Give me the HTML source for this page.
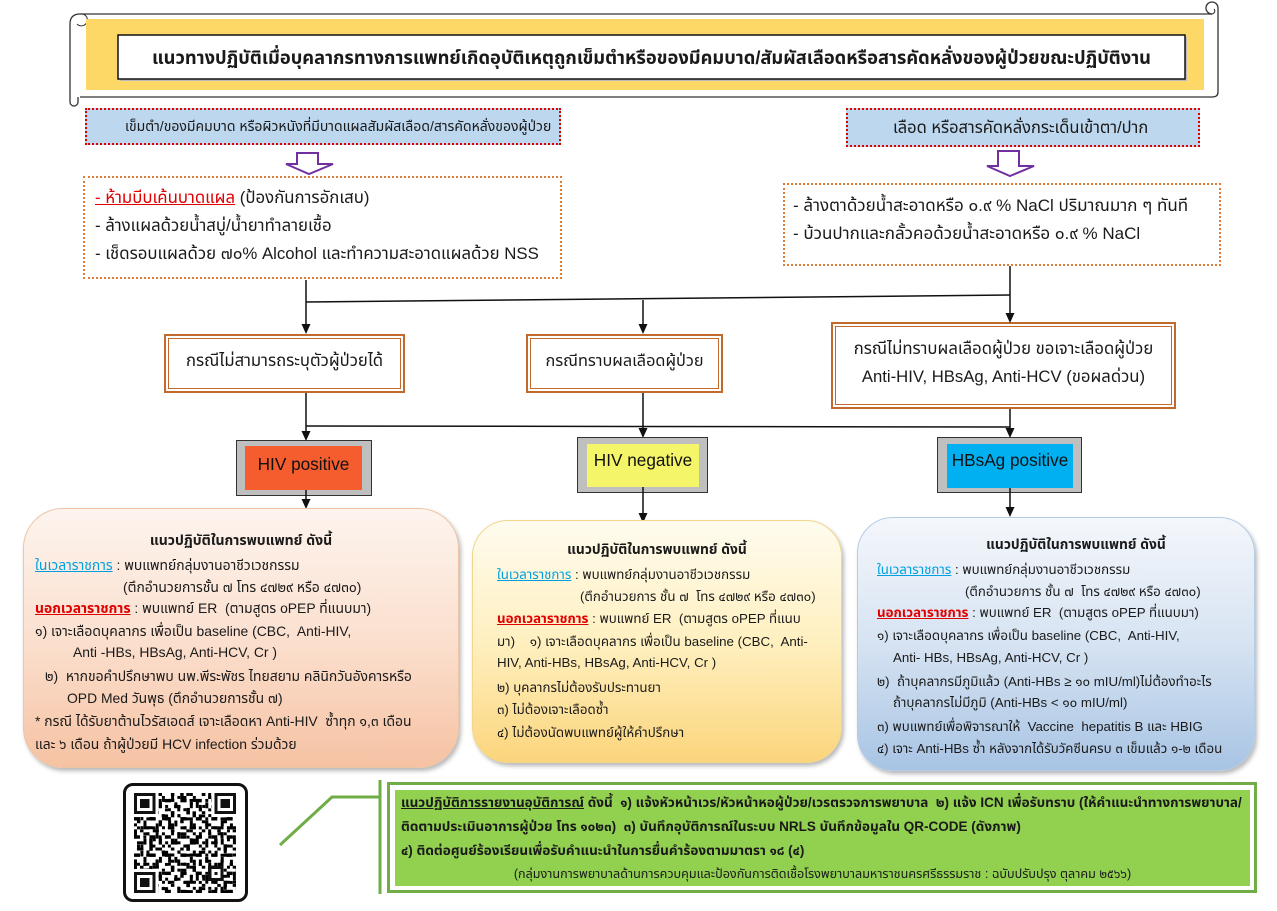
<!DOCTYPE html>
<html><head><meta charset="utf-8">
<style>
*{margin:0;padding:0;box-sizing:border-box}
html,body{width:1277px;height:911px;background:#fff;overflow:hidden}
body{position:relative;font-family:"Liberation Sans","Tahoma","Leelawadee UI","Noto Sans Thai","Noto Sans Thai UI","Loma","Garuda","Waree","Sawasdee","Kinnari","Norasi",sans-serif;color:#1a1a1a}
.a{position:absolute;white-space:nowrap}
.src{position:absolute;background:#bdd7ee;border:2.5px dotted #e00000}
.ins{position:absolute;background:#fff;border:2px dotted #e07b39}
.case{position:absolute;border:2px solid #c2692c;padding:2px;background:#fff}
.case>div{width:100%;height:100%;border:1px solid #c2692c}
.hiv{position:absolute;background:#bfbfbf;border:1.5px solid #333}
.hiv>div{position:absolute;font-size:17.2px;text-align:center;color:#111}
.panel{position:absolute;box-shadow:2px 3px 4px rgba(0,0,0,.28)}
.pt{position:absolute;white-space:nowrap;font-size:13.3px;line-height:20px;color:#1a1a1a}
.lp .pt{font-size:13.9px}
.hd{font-weight:bold;font-size:13.8px}
.lp .hd{font-size:14px}
.bl{color:#00a0e0;text-decoration:underline}
.rd{color:#e00000;text-decoration:underline;font-weight:bold}
.g{position:absolute;white-space:nowrap;font-size:13.5px;line-height:18px;font-weight:bold;color:#1a1a1a}
.ct{font-size:16.7px;line-height:20px;text-align:center}
.it{font-size:16.8px;line-height:20px}
</style></head><body>

<!-- title scroll -->
<svg class="a" style="left:0;top:0" width="1277" height="120">
  <path d="M80,14 H1212" stroke="#333" stroke-width="1.3" fill="none"/>
  <path d="M1212,14 a6,6 0 1,1 6,-6 V92" stroke="#333" stroke-width="1.3" fill="none"/>
  <path d="M1212,14 a3,3 0 0,0 2,-5" stroke="#333" stroke-width="1" fill="none"/>
  <path d="M1218,92 Q1218,97 1212,97 H80" stroke="#333" stroke-width="1.3" fill="none"/>
  <path d="M80,14 Q70,14 70,24 V102 a4,4 0 0,0 8,0 V97" stroke="#333" stroke-width="1.3" fill="none"/>
  <path d="M77,24 a6,6 0 1,0 3,-10" stroke="#333" stroke-width="1" fill="none"/>
  <rect x="86" y="19" width="1118" height="71" fill="#fdd866"/>
  <rect x="120" y="37" width="1067" height="44" fill="#bbb"/>
  <rect x="118" y="35" width="1067" height="44" fill="#fff" stroke="#111" stroke-width="1.5"/>
</svg>
<div class="a" style="left:118px;top:45px;width:1067px;text-align:center;font-size:18.3px;line-height:26px;font-weight:bold;">แนวทางปฏิบัติเมื่อบุคลากรทางการแพทย์เกิดอุบัติเหตุถูกเข็มตำหรือของมีคมบาด/สัมผัสเลือดหรือสารคัดหลั่งของผู้ป่วยขณะปฏิบัติงาน</div>

<!-- source boxes -->
<div class="src" style="left:85px;top:108px;width:476px;height:37px"></div>
<div class="a" style="left:125px;top:116px;font-size:14px;line-height:20px">เข็มตำ/ของมีคมบาด หรือผิวหนังที่มีบาดแผลสัมผัสเลือด/สารคัดหลั่งของผู้ป่วย</div>
<div class="src" style="left:846px;top:108px;width:354px;height:39px"></div>
<div class="a" style="left:893px;top:117px;font-size:16.5px;line-height:22px">เลือด หรือสารคัดหลั่งกระเด็นเข้าตา/ปาก</div>

<!-- purple hollow arrows -->
<svg class="a" style="left:0;top:0" width="1277" height="200">
  <path d="M297,153 H318 V164 H333 L309,174 L286,164 H297 Z" fill="#fff" stroke="#7030a0" stroke-width="2"/>
  <path d="M998,151 H1019 V166 H1034 L1010,176 L987,166 H998 Z" fill="#fff" stroke="#7030a0" stroke-width="2"/>
</svg>

<!-- instruction boxes -->
<div class="ins" style="left:83px;top:176px;width:479px;height:103px"></div>
<div class="a it" style="left:95px;top:188px"><span style="color:#e00000;text-decoration:underline">- ห้ามบีบเค้นบาดแผล</span> (ป้องกันการอักเสบ)</div>
<div class="a it" style="left:95px;top:216px">- ล้างแผลด้วยน้ำสบู่/น้ำยาทำลายเชื้อ</div>
<div class="a it" style="left:95px;top:244px">- เช็ดรอบแผลด้วย ๗๐% Alcohol และทำความสะอาดแผลด้วย NSS</div>

<div class="ins" style="left:783px;top:183px;width:438px;height:83px"></div>
<div class="a it" style="left:793px;top:196px;font-size:17px">- ล้างตาด้วยน้ำสะอาดหรือ ๐.๙ % NaCl ปริมาณมาก ๆ ทันที</div>
<div class="a it" style="left:793px;top:224px;font-size:17px">- บ้วนปากและกลั้วคอด้วยน้ำสะอาดหรือ ๐.๙ % NaCl</div>

<!-- case boxes -->
<div class="case" style="left:164px;top:334px;width:241px;height:59px"><div></div></div>
<div class="a ct" style="left:164px;top:351px;width:241px">กรณีไม่สามารถระบุตัวผู้ป่วยได้</div>
<div class="case" style="left:526px;top:334px;width:197px;height:59px"><div></div></div>
<div class="a ct" style="left:526px;top:351px;width:197px;font-size:16.3px">กรณีทราบผลเลือดผู้ป่วย</div>
<div class="case" style="left:831px;top:322px;width:345px;height:87px"><div></div></div>
<div class="a ct" style="left:831px;top:339px;width:345px">กรณีไม่ทราบผลเลือดผู้ป่วย ขอเจาะเลือดผู้ป่วย</div>
<div class="a ct" style="left:831px;top:367px;width:345px">Anti-HIV, HBsAg, Anti-HCV (ขอผลด่วน)</div>

<!-- HIV boxes -->
<div class="hiv" style="left:236px;top:440px;width:136px;height:56px">
  <div style="left:8px;top:5px;width:117px;height:44px;background:#f55d2e;line-height:36px">HIV positive</div>
</div>
<div class="hiv" style="left:577px;top:437px;width:131px;height:56px">
  <div style="left:9px;top:6px;width:112px;height:43px;background:#f5f56a;line-height:32px">HIV negative</div>
</div>
<div class="hiv" style="left:937px;top:437px;width:145px;height:56px">
  <div style="left:9px;top:6px;width:126px;height:44px;background:#00b0f0;line-height:32px">HBsAg positive</div>
</div>

<!-- connectors -->
<svg class="a" style="left:0;top:0" width="1277" height="911">
  <g stroke="#111" stroke-width="1.5" fill="none">
    <path d="M306,280 V326"/>
    <path d="M306,302 L1010,295"/>
    <path d="M643,300 V326"/>
    <path d="M1010,266 V315"/>
    <path d="M306,393 V433"/>
    <path d="M306,426 L1010,427"/>
    <path d="M643,393 V430"/>
    <path d="M1010,409 V430"/>
    <path d="M306,490 V501"/>
    <path d="M643,487 V515"/>
    <path d="M1010,488 V509"/>
  </g>
  <g fill="#111">
    <path d="M306,334 l-4.5,-10 h9 z"/>
    <path d="M643,334 l-4.5,-10 h9 z"/>
    <path d="M1010,323 l-4.5,-10 h9 z"/>
    <path d="M306,441 l-4.5,-10 h9 z"/>
    <path d="M643,438 l-4.5,-10 h9 z"/>
    <path d="M1010,438 l-4.5,-10 h9 z"/>
    <path d="M306,509 l-4.5,-10 h9 z"/>
    <path d="M643,523 l-4.5,-10 h9 z"/>
    <path d="M1010,517 l-4.5,-10 h9 z"/>
  </g>
</svg>

<!-- left panel -->
<div class="lp">
<div class="panel" style="left:23px;top:508px;width:436px;height:260px;border-radius:40px;border:1px solid #edc4a6;background:linear-gradient(#fdf4ee,#fbe0cf 50%,#f6c2a3)"></div>
<div class="pt hd" style="left:23px;width:436px;text-align:center;top:530px">แนวปฏิบัติในการพบแพทย์ ดังนี้</div>
<div class="pt" style="left:35px;top:555px"><span class="bl">ในเวลาราชการ</span> : พบแพทย์กลุ่มงานอาชีวเวชกรรม</div>
<div class="pt" style="left:123px;top:577px">(ตึกอำนวยการชั้น ๗ โทร ๔๗๒๙ หรือ ๔๗๓๐)</div>
<div class="pt" style="left:35px;top:598px"><span class="rd">นอกเวลาราชการ</span> : พบแพทย์ ER&nbsp; (ตามสูตร oPEP ที่แนบมา)</div>
<div class="pt" style="left:35px;top:621px">๑) เจาะเลือดบุคลากร เพื่อเป็น baseline (CBC,&nbsp; Anti-HIV,</div>
<div class="pt" style="left:73px;top:642px">Anti -HBs, HBsAg, Anti-HCV, Cr )</div>
<div class="pt" style="left:45px;top:666px">๒)&nbsp; หากขอคำปรึกษาพบ นพ.พีระพัชร ไทยสยาม คลินิกวันอังคารหรือ</div>
<div class="pt" style="left:67px;top:688px">OPD Med วันพุธ (ตึกอำนวยการชั้น ๗)</div>
<div class="pt" style="left:35px;top:711px">* กรณี ได้รับยาต้านไวรัสเอดส์ เจาะเลือดหา Anti-HIV&nbsp; ซ้ำทุก ๑,๓ เดือน</div>
<div class="pt" style="left:35px;top:734px">และ ๖ เดือน ถ้าผู้ป่วยมี HCV infection ร่วมด้วย</div>
</div>

<!-- middle panel -->
<div class="panel" style="left:472px;top:520px;width:370px;height:243px;border-radius:36px;border:1px solid #f2d68c;background:linear-gradient(#fffcef,#fff0c0 50%,#fbd57c)"></div>
<div class="pt hd" style="left:472px;width:370px;text-align:center;top:540px">แนวปฏิบัติในการพบแพทย์ ดังนี้</div>
<div class="pt" style="left:497px;top:565px"><span class="bl">ในเวลาราชการ</span> : พบแพทย์กลุ่มงานอาชีวเวชกรรม</div>
<div class="pt" style="left:580px;top:587px">(ตึกอำนวยการ ชั้น ๗&nbsp; โทร ๔๗๒๙ หรือ ๔๗๓๐)</div>
<div class="pt" style="left:497px;top:609px"><span class="rd">นอกเวลาราชการ</span> : พบแพทย์ ER&nbsp; (ตามสูตร oPEP ที่แนบ</div>
<div class="pt" style="left:497px;top:632px">มา)&nbsp;&nbsp;&nbsp; ๑) เจาะเลือดบุคลากร เพื่อเป็น baseline (CBC,&nbsp; Anti-</div>
<div class="pt" style="left:497px;top:653px">HIV, Anti-HBs, HBsAg, Anti-HCV, Cr )</div>
<div class="pt" style="left:497px;top:678px">๒) บุคลากรไม่ต้องรับประทานยา</div>
<div class="pt" style="left:497px;top:700px">๓) ไม่ต้องเจาะเลือดซ้ำ</div>
<div class="pt" style="left:497px;top:723px">๔) ไม่ต้องนัดพบแพทย์ผู้ให้คำปรึกษา</div>

<!-- right panel -->
<div class="panel" style="left:857px;top:517px;width:398px;height:254px;border-radius:36px;border:1px solid #b5cce6;background:linear-gradient(#f4f7fb,#d6e3f2 50%,#a8c4e4)"></div>
<div class="pt hd" style="left:877px;width:398px;text-align:center;top:535px">แนวปฏิบัติในการพบแพทย์ ดังนี้</div>
<div class="pt" style="left:877px;top:560px"><span class="bl">ในเวลาราชการ</span> : พบแพทย์กลุ่มงานอาชีวเวชกรรม</div>
<div class="pt" style="left:965px;top:582px">(ตึกอำนวยการ ชั้น ๗&nbsp; โทร ๔๗๒๙ หรือ ๔๗๓๐)</div>
<div class="pt" style="left:877px;top:603px"><span class="rd">นอกเวลาราชการ</span> : พบแพทย์ ER&nbsp; (ตามสูตร oPEP ที่แนบมา)</div>
<div class="pt" style="left:877px;top:626px">๑) เจาะเลือดบุคลากร เพื่อเป็น baseline (CBC,&nbsp; Anti-HIV,</div>
<div class="pt" style="left:893px;top:648px">Anti- HBs, HBsAg, Anti-HCV, Cr )</div>
<div class="pt" style="left:877px;top:672px">๒)&nbsp; ถ้าบุคลากรมีภูมิแล้ว (Anti-HBs ≥ ๑๐ mIU/ml)ไม่ต้องทำอะไร</div>
<div class="pt" style="left:893px;top:693px">ถ้าบุคลากรไม่มีภูมิ (Anti-HBs &lt; ๑๐ mIU/ml)</div>
<div class="pt" style="left:877px;top:717px">๓) พบแพทย์เพื่อพิจารณาให้&nbsp; Vaccine&nbsp; hepatitis B และ HBIG</div>
<div class="pt" style="left:877px;top:739px">๔) เจาะ Anti-HBs ซ้ำ หลังจากได้รับวัคซีนครบ ๓ เข็มแล้ว ๑-๒ เดือน</div>

<!-- QR code -->
<div class="a" style="left:123px;top:783px;width:125px;height:119px;border:3px solid #111;border-radius:10px;background:#fff"></div>
<svg class="a" style="left:134px;top:793px" width="102" height="100" viewBox="0 0 33 33" preserveAspectRatio="none" shape-rendering="crispEdges">
  <defs>
    <pattern id="p1" width="12" height="12" patternUnits="userSpaceOnUse">
      <rect x="0" y="0" width="1" height="2"/><rect x="3" y="1" width="2" height="1"/><rect x="6" y="0" width="1" height="1"/>
      <rect x="8" y="2" width="1" height="3"/><rect x="1" y="4" width="2" height="1"/><rect x="5" y="5" width="1" height="2"/>
      <rect x="10" y="4" width="1" height="1"/><rect x="2" y="7" width="1" height="1"/><rect x="4" y="8" width="3" height="1"/>
      <rect x="9" y="7" width="2" height="1"/><rect x="0" y="10" width="1" height="1"/><rect x="7" y="10" width="1" height="2"/>
      <rect x="11" y="9" width="1" height="2"/><rect x="3" y="11" width="2" height="1"/><rect x="6" y="3" width="1" height="1"/>
    </pattern>
    <pattern id="p2" width="7" height="9" patternUnits="userSpaceOnUse">
      <rect x="1" y="0" width="1" height="1"/><rect x="4" y="2" width="2" height="1"/><rect x="0" y="4" width="1" height="2"/>
      <rect x="3" y="5" width="1" height="1"/><rect x="5" y="6" width="1" height="2"/><rect x="2" y="8" width="1" height="1"/>
      <rect x="2" y="2" width="1" height="1"/>
    </pattern>
    <pattern id="p3" width="5" height="6" patternUnits="userSpaceOnUse">
      <rect x="2" y="0" width="1" height="1"/><rect x="0" y="2" width="2" height="1"/><rect x="3" y="3" width="1" height="2"/>
      <rect x="1" y="5" width="1" height="1"/><rect x="4" y="1" width="1" height="1"/>
    </pattern>
  </defs>
  <rect width="33" height="33" fill="url(#p1)"/>
  <rect width="33" height="33" fill="url(#p2)"/>
  <rect width="33" height="33" fill="url(#p3)"/>
  <g fill="#fff"><rect x="0" y="0" width="8" height="8"/><rect x="25" y="0" width="8" height="8"/><rect x="0" y="25" width="8" height="8"/></g>
  <g fill="#111">
    <rect x="0" y="0" width="7" height="7"/><rect x="26" y="0" width="7" height="7"/><rect x="0" y="26" width="7" height="7"/>
  </g>
  <g fill="#fff"><rect x="1" y="1" width="5" height="5"/><rect x="27" y="1" width="5" height="5"/><rect x="1" y="27" width="5" height="5"/></g>
  <g fill="#111"><rect x="2" y="2" width="3" height="3"/><rect x="28" y="2" width="3" height="3"/><rect x="2" y="28" width="3" height="3"/><rect x="24" y="24" width="5" height="5"/></g>
  <rect x="25" y="25" width="3" height="3" fill="#fff"/><rect x="26" y="26" width="1" height="1" fill="#111"/>
</svg>

<!-- green connector and box -->
<svg class="a" style="left:0;top:770px" width="400" height="140">
  <path d="M280,75 L332,27 H380" stroke="#70ad47" stroke-width="3" fill="none"/>
  <path d="M380,10 V124" stroke="#70ad47" stroke-width="3" fill="none"/>
</svg>
<div class="a" style="left:387px;top:782px;width:870px;height:111px;border:3px solid #70ad47;background:#fff"></div>
<div class="a" style="left:395px;top:790px;width:855px;height:96px;background:#92d050"></div>
<div class="g" style="left:401px;top:794px"><span style="text-decoration:underline">แนวปฏิบัติการรายงานอุบัติการณ์</span> ดังนี้&nbsp; ๑) แจ้งหัวหน้าเวร/หัวหน้าหอผู้ป่วย/เวรตรวจการพยาบาล&nbsp; ๒) แจ้ง ICN เพื่อรับทราบ (ให้คำแนะนำทางการพยาบาล/</div>
<div class="g" style="left:401px;top:818px">ติดตามประเมินอาการผู้ป่วย โทร ๑๐๒๓)&nbsp; ๓) บันทึกอุบัติการณ์ในระบบ NRLS บันทึกข้อมูลใน QR-CODE (ดังภาพ)</div>
<div class="g" style="left:401px;top:842px">๔) ติดต่อศูนย์ร้องเรียนเพื่อรับคำแนะนำในการยื่นคำร้องตามมาตรา ๑๘ (๔)</div>
<div class="g" style="left:395px;width:855px;text-align:center;top:865px;font-weight:normal;font-size:12.6px">(กลุ่มงานการพยาบาลด้านการควบคุมและป้องกันการติดเชื้อโรงพยาบาลมหาราชนครศรีธรรมราช : ฉบับปรับปรุง ตุลาคม ๒๕๖๖)</div>

</body></html>
